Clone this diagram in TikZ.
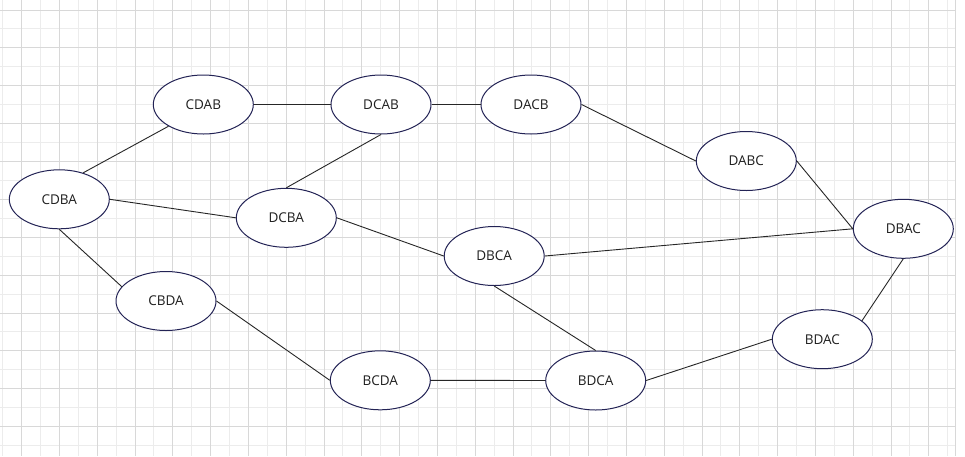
\documentclass[tikz,border=0pt]{standalone}
\usepackage{fontspec}
\setmainfont{Open Sans}
\usetikzlibrary{shapes.geometric}
\definecolor{nodeline}{RGB}{35,35,85}
\definecolor{textcol}{RGB}{30,30,30}
\definecolor{majorgrid}{RGB}{216,216,216}
\definecolor{minorgrid}{RGB}{236,236,236}
\begin{document}
\begin{tikzpicture}[x=1pt,y=-1pt,
  state/.style={ellipse,draw=nodeline,line width=1pt,minimum width=100pt,minimum height=59pt,inner sep=0pt,font=\fontsize{13.5}{15}\selectfont,text=textcol,fill=white},
  link/.style={draw=black!85,line width=0.9pt},
  gmajor/.style={draw=majorgrid,line width=1pt},
  gminor/.style={draw=minorgrid,line width=1pt}]
\useasboundingbox (0,0) rectangle (965,456);
\fill[white] (0,0) rectangle (965,456);
% grid
\foreach \k in {0,...,25} \draw[gminor] ({2.7+37.8*\k},0) -- ({2.7+37.8*\k},456);
\foreach \k in {0,...,11} \draw[gminor] (0,{28.95+37.88*\k}) -- (955.5,{28.95+37.88*\k});
\foreach \k in {0,...,24} \draw[gmajor] ({21.7+37.8*\k},0) -- ({21.7+37.8*\k},456);
\foreach \k in {0,...,11} \draw[gmajor] (0,{10+37.88*\k}) -- (955.5,{10+37.88*\k});
\draw[gmajor] (955.5,0) -- (955.5,456);
% nodes
\node[state] (CDAB) at (203.3,104.5) {CDAB};
\node[state] (DCAB) at (381,104.5) {DCAB};
\node[state] (DACB) at (531,104.5) {DACB};
\node[state] (DABC) at (746.3,161) {DABC};
\node[state] (CDBA) at (59.3,199.3) {CDBA};
\node[state] (DCBA) at (286.3,217.8) {DCBA};
\node[state] (DBCA) at (494.2,256) {DBCA};
\node[state] (DBAC) at (903.3,228.8) {DBAC};
\node[state] (CBDA) at (166,301) {CBDA};
\node[state] (BCDA) at (380.3,380.3) {BCDA};
\node[state] (BDCA) at (595.7,380.5) {BDCA};
\node[state] (BDAC) at (822.3,339.2) {BDAC};
% connectors
\draw[link] (CDAB.east) -- (DCAB.west);
\draw[link] (DCAB.east) -- (DACB.west);
\draw[link] (DACB.east) -- (DABC.west);
\draw[link] (DABC.east) -- (DBAC.west);
\draw[link] (DBCA.east) -- (DBAC.west);
\draw[link] (BDAC.25) -- (DBAC.south);
\draw[link] (BDCA.east) -- (BDAC.west);
\draw[link] (BCDA.east) -- (BDCA.west);
\draw[link] (CBDA.east) -- (BCDA.west);
\draw[link] (CDBA.south) -- (CBDA.162);
\draw[link] (CDBA.48) -- (CDAB.212);
\draw[link] (CDBA.east) -- (DCBA.west);
\draw[link] (DCBA.north) -- (DCAB.south);
\draw[link] (DCBA.east) -- (DBCA.west);
\draw[link] (DBCA.south) -- (BDCA.north);
\end{tikzpicture}
\end{document}
